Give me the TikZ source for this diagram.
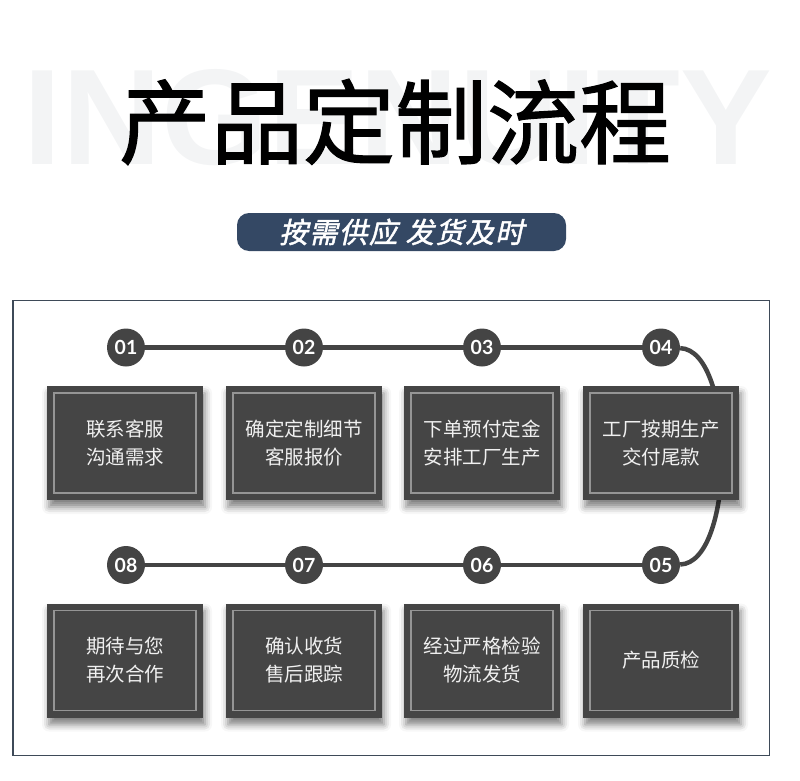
\documentclass[tikz,border=0pt]{standalone}
\usepackage{fontspec}
\newfontfamily\cjk{Noto Sans CJK SC}
\newfontfamily\cjktitle{Noto Sans CJK SC}[FakeBold=1.3]
\newfontfamily\cjkslant{Noto Sans CJK SC}[FakeSlant=0.22, FakeBold=1.6, LetterSpace=5]
\newfontfamily\numfont{Lato}
\newfontfamily\wmfont{Liberation Sans}
\usetikzlibrary{shadows.blur}
\definecolor{boxgray}{HTML}{454545}
\definecolor{linegray}{HTML}{444444}
\definecolor{innergray}{HTML}{959595}
\definecolor{navy}{RGB}{52,72,100}
\definecolor{framecol}{HTML}{3E4A58}
\definecolor{wmgray}{HTML}{F3F4F5}
\pgfdeclarelayer{background}
\pgfsetlayers{background,main}
\tikzset{
  stepbox/.style={fill=boxgray, minimum width=156pt, minimum height=114pt,
    inner sep=0pt, align=center, text=white!94!black,
    font=\cjk\fontsize{19.5}{28}\selectfont,
    blur shadow={shadow xshift=2pt, shadow yshift=-7pt, shadow blur radius=7pt, shadow opacity=50},
    path picture={\draw[innergray, line width=1.3pt]
      ([shift={(7pt,-7pt)}]path picture bounding box.north west) rectangle
      ([shift={(-7pt,7pt)}]path picture bounding box.south east);}},
  num/.style={circle, fill=linegray, minimum size=38pt, inner sep=0pt,
    text=white, font=\numfont\bfseries\fontsize{19.5}{20}\selectfont},
  link/.style={linegray, line width=4.5pt}
}

\begin{document}
\begin{tikzpicture}[x=1pt, y=-1pt]
            \useasboundingbox (0,0) rectangle (800,781);

            %Heading
            \node[text=wmgray, inner sep=0pt] (wm) at (398,117.5) {\resizebox{748pt}{95pt}{\wmfont\bfseries INGENUITY}};
            \node at (395,122) (title) {\cjktitle\fontsize{92}{92}\selectfont 产品定制流程};
            \node[fill=navy, rounded corners=12pt, minimum width=329pt, minimum height=38pt, inner sep=0pt,
                  text=white, font=\cjkslant\fontsize{28.5}{29}\selectfont] at (401.5,232) (sub) {按需供应\hspace{8pt}发货及时};

            %Frame
            \draw[framecol, line width=1.2pt] (13,300.5) rectangle (769.5,755.5);

            %Nodes
            \node[num] at (126,347.5) (c1) {01};
            \node[num] at (304,347.5) (c2) {02};
            \node[num] at (482,347.5) (c3) {03};
            \node[num] at (661,347.5) (c4) {04};
            \node[num] at (661,565) (c5) {05};
            \node[num] at (482,565) (c6) {06};
            \node[num] at (304,565) (c7) {07};
            \node[num] at (126,565) (c8) {08};

            \node[stepbox] at (125,443) (b1) {联系客服\\沟通需求};
            \node[stepbox] at (304,443) (b2) {确定定制细节\\客服报价};
            \node[stepbox] at (482,443) (b3) {下单预付定金\\安排工厂生产};
            \node[stepbox] at (661,443) (b4) {工厂按期生产\\交付尾款};
            \node[stepbox] at (661,660.5) (b5) {产品质检};
            \node[stepbox] at (482,660.5) (b6) {经过严格检验\\物流发货};
            \node[stepbox] at (304,660.5) (b7) {确认收货\\售后跟踪};
            \node[stepbox] at (125,660.5) (b8) {期待与您\\再次合作};

            %Lines
            \begin{pgfonlayer}{background}
            \draw[link] (c1) -- (c2);
            \draw[link] (c2) -- (c3);
            \draw[link] (c3) -- (c4);
            \draw[link] (c4) .. controls (736,350) and (736,563) .. (c5);
            \draw[link] (c5) -- (c6);
            \draw[link] (c6) -- (c7);
            \draw[link] (c7) -- (c8);
            \end{pgfonlayer}
        \end{tikzpicture}
\end{document}
